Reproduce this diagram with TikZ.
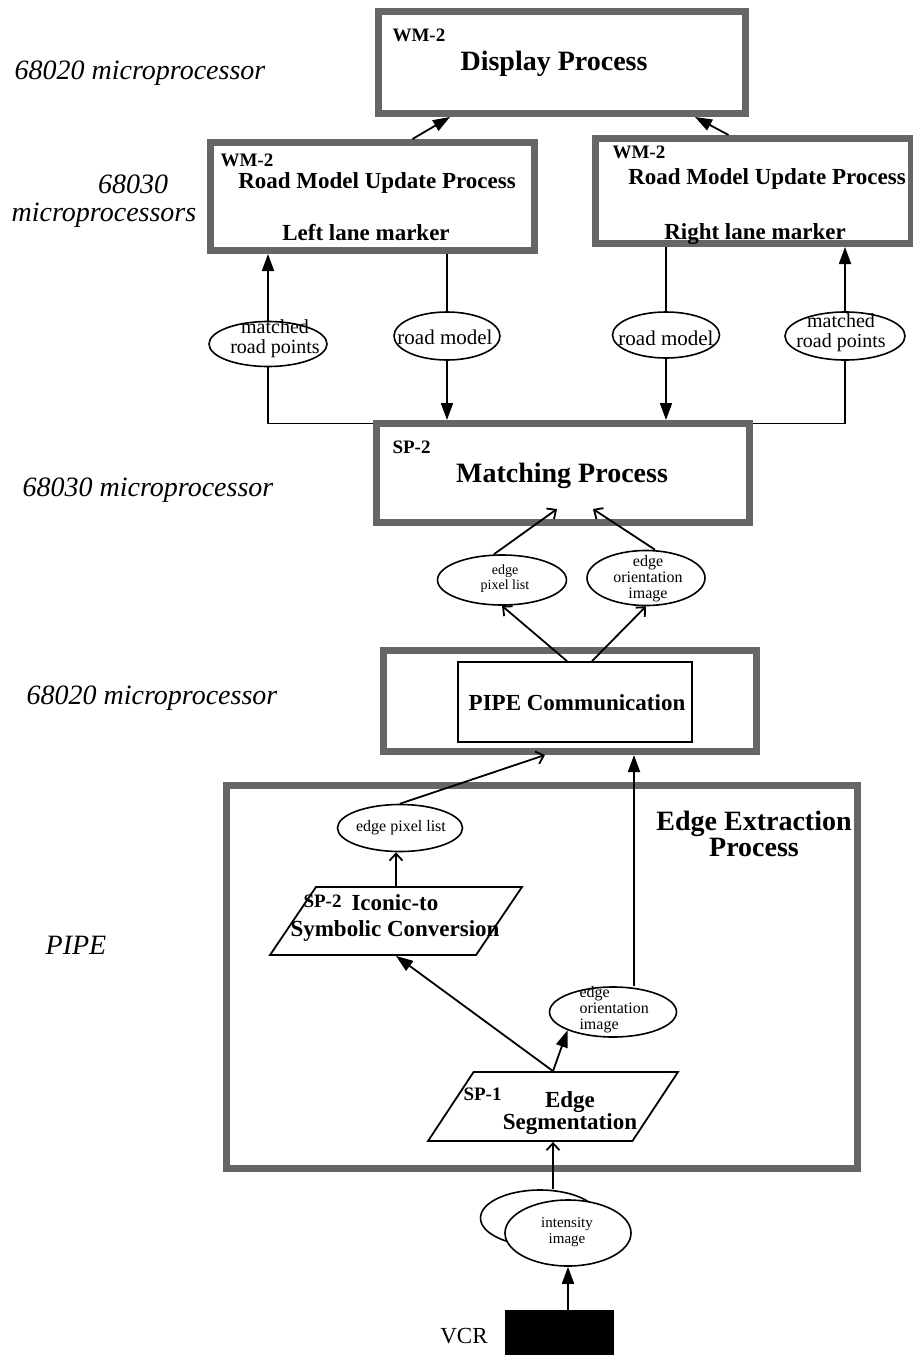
\documentclass[tikz,border=0pt]{standalone}
\usepackage{fontspec}
\setmainfont{Liberation Serif}
\usetikzlibrary{shapes.geometric,arrows.meta}

\begin{document}
\begin{tikzpicture}[x=1pt, y=-1pt,
                    procbox/.style={rectangle, draw=black!60, line width=7pt, inner sep=0pt},
                    plainbox/.style={rectangle, draw, line width=1.8pt, inner sep=0pt},
                    datum/.style={ellipse, draw, line width=1.6pt, inner sep=0pt, fill=white},
                    slant/.style={trapezium, trapezium left angle=74, trapezium right angle=106,
                                  trapezium stretches=true, draw, line width=1.8pt, inner sep=2pt},
                    tag/.style={anchor=west, font=\bfseries\fontsize{19}{19}\selectfont},
                    ttl/.style={font=\bfseries\fontsize{28}{23}\selectfont, align=center},
                    sub/.style={font=\bfseries\fontsize{23}{19}\selectfont, align=center},
                    cpu/.style={font=\itshape\fontsize{28}{28}\selectfont},
                    lbl/.style={font=\fontsize{20}{20}\selectfont, align=center},
                    smalltxt/.style={font=\fontsize{16}{16}\selectfont, align=center},
                    fillarr/.style={-{Triangle[length=17pt,width=12pt]}, line width=1.8pt},
                    openarr/.style={-{Straight Barb[length=7pt,width=13pt]}, line width=1.8pt},
                    wire/.style={line width=1.8pt}]
  \useasboundingbox (0,0) rectangle (913,1355);

  % processors
  \node[cpu] (cpua) at (140,73) {68020 microprocessor};
  \node[cpu] (cpub) at (133,184) {68030};
  \node[cpu] (cpubb) at (104,215) {microprocessors};
  \node[cpu] (cpuc) at (148,490) {68030 microprocessor};
  \node[cpu] (cpud) at (152,698) {68020 microprocessor};
  \node[cpu] (cpue) at (76,945) {PIPE};

  % WM-2
  \node[procbox, minimum width=367pt, minimum height=102pt] (disp) at (562,62.5) {};
  \node[tag] (disptag) at (389,35) {WM-2};
  \node[ttl] (disptxt) at (554,64) {Display Process};

  \node[procbox, minimum width=324pt, minimum height=108pt] (lrmu) at (372.5,196.5) {};
  \node[tag] (lrmutag) at (217,160) {WM-2};
  \node[sub] (lrmutxt) at (377,183) {Road Model Update Process};
  \node[sub] (lrmulane) at (366,233) {Left lane marker};

  \node[procbox, minimum width=316pt, minimum height=105pt] (rrmu) at (753.5,191) {};
  \node[tag] (rrmutag) at (609,152) {WM-2};
  \node[sub] (rrmutxt) at (767,179) {Road Model Update Process};
  \node[sub] (rrmulane) at (755,234) {Right lane marker};

  \draw[fillarr] ([xshift=40pt]lrmu.north) -- ([xshift=-112pt]disp.south);
  \draw[fillarr] ([xshift=-25pt]rrmu.north) -- ([xshift=133pt]disp.south);

  % SP-2
  \node[procbox, minimum width=373pt, minimum height=99pt] (match) at (563,473) {};
  \node[tag] (matchtag) at (389,447) {SP-2};
  \node[ttl] (matchtxt) at (562,476) {Matching Process};

  \node[datum, minimum width=118pt, minimum height=45pt] (lmat) at (268,344) {};
  \node[lbl] (lmattxt) at (275,339) {matched\\road points};
  \node[datum, minimum width=106pt, minimum height=48pt] (lrm) at (447,336) {};
  \node[lbl, font=\fontsize{21}{21}\selectfont] (lrmtxt) at (445,337) {road model};
  \node[datum, minimum width=107pt, minimum height=46pt] (rrm) at (666,335) {};
  \node[lbl, font=\fontsize{21}{21}\selectfont] (rrmtxt) at (666,338) {road model};
  \node[datum, minimum width=120pt, minimum height=48pt] (rmat) at (845,336) {};
  \node[lbl] (rmattxt) at (841,333) {matched\\road points};

  \draw[fillarr] (lmat) -- (lmat |- lrmu.south);
  \draw[wire] (lrmu.south -| lrm) -- (lrm);
  \draw[fillarr] (lrm) -- (lrm |- match.north);
  \draw[wire] (lmat) |- ([yshift=-3.5pt]match.north west);
  \draw[fillarr] (rmat) -- (rmat |- rrmu.south);
  \draw[wire] (rrmu.south -| rrm) -- (rrm);
  \draw[fillarr] (rrm) -- (rrm |- match.north);
  \draw[wire] (rmat) |- ([yshift=-3.5pt]match.north east);

  % PIPE communication
  \node[datum, minimum width=129pt, minimum height=50pt] (epl) at (502,580) {};
  \node[smalltxt, font=\fontsize{14}{15}\selectfont] (epltxt) at (505,579) {edge\\pixel list};
  \node[datum, minimum width=118pt, minimum height=55pt] (eoi) at (646,578) {};
  \node[smalltxt] (eoitxt) at (648,579) {edge\\orientation\\image};

  \draw[openarr] ([xshift=-8pt]epl.north) -- ([xshift=-6pt,yshift=17pt]match.south);
  \draw[openarr] ([xshift=9pt]eoi.north) -- ([xshift=30pt,yshift=17pt]match.south);

  \node[procbox, minimum width=373pt, minimum height=101pt] (pipe) at (570,701) {};
  \node[plainbox, minimum width=234pt, minimum height=80pt] (pcom) at (575,702) {};
  \node[sub] (pcomtxt) at (577,703) {PIPE Communication};

  \draw[openarr] ([xshift=-8pt]pcom.north) -- (epl.south);
  \draw[openarr] ([xshift=17pt]pcom.north) -- (eoi.south);

  % edge extraction
  \node[procbox, minimum width=631pt, minimum height=383pt] (edge) at (541.5,976.5) {};
  \node[ttl] (edgetxt) at (754,834) {Edge Extraction\\Process};

  \node[datum, minimum width=125pt, minimum height=47pt] (eplb) at (400,828) {};
  \node[smalltxt] (eplbtxt) at (401,828) {edge pixel list};
  \node[slant, minimum width=252pt, minimum height=68pt] (iconic) at (396,921) {};
  \node[tag] (iconictag) at (300,901) {SP-2};
  \node[sub, anchor=west] (iconictxt) at (348,903) {Iconic-to};
  \node[sub] (iconictxtb) at (395,931) {Symbolic Conversion};

  \node[datum, minimum width=127pt, minimum height=50pt] (eoib) at (613,1012) {};
  \node[smalltxt, align=left, anchor=west] (eoibtxt) at (576,1010) {edge\\orientation\\image};

  \node[slant, minimum width=250pt, minimum height=69pt] (seg) at (553,1106.5) {};
  \node[tag] (segtag) at (460,1094) {SP-1};
  \node[sub] (segtxt) at (570,1113) {Edge\\Segmentation};

  \draw[openarr] (iconic.north) -- (iconic.north |- eplb.south);
  \draw[openarr] (eplb.north) -- ([xshift=-25pt]pipe.south);
  \draw[fillarr] (seg.north) -- (iconic.south);
  \draw[fillarr] (seg.north) -- (eoib.south west);
  \draw[fillarr] ([xshift=21pt]eoib.north) -- ([xshift=21pt]eoib.north |- pipe.south);

  % input
  \node[datum, minimum width=119pt, minimum height=56pt] (ib) at (540,1218) {};
  \node[datum, minimum width=126pt, minimum height=66pt] (it) at (568,1233) {};
  \node[smalltxt, font=\fontsize{15}{16}\selectfont] (ittxt) at (567,1232) {intensity\\image};
  \node[rectangle, fill=black, minimum width=109pt, minimum height=50pt] (vcr) at (559.5,1335) {};
  \node[font=\fontsize{23}{23}\selectfont] (vcrtxt) at (464,1336) {VCR};

  \draw[openarr] (ib.north -| seg.south) -- (seg.south);
  \draw[fillarr] (it |- vcr.north) -- (it.south);
\end{tikzpicture}
\end{document}
